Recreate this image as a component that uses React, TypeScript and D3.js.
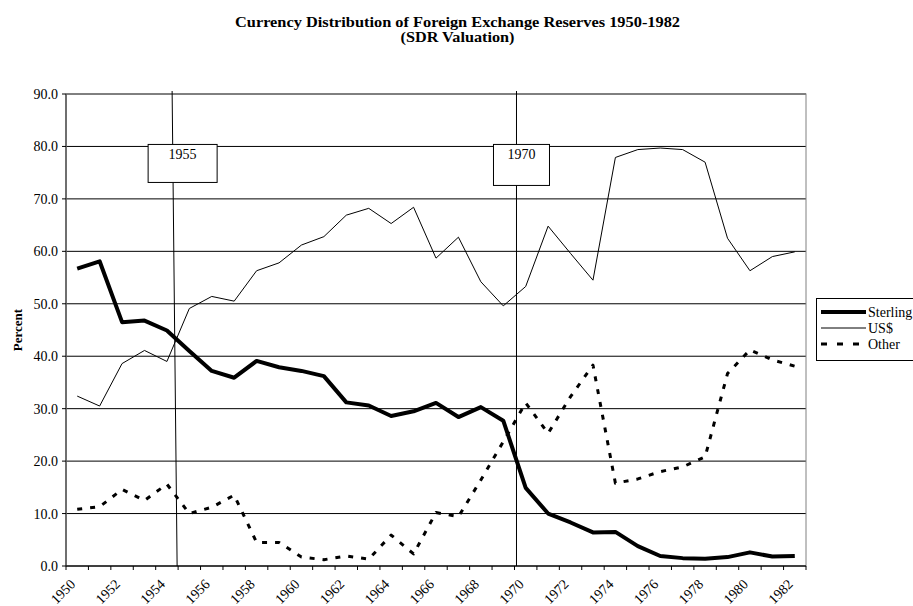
import * as d3 from "d3";

const years = d3.range(1950, 1983);

const sterling = [
  56.7, 58.1, 46.5, 46.8, 44.9, 41.0, 37.2, 35.9, 39.1, 37.9, 37.2, 36.2, 31.2, 30.6, 28.6, 29.5, 31.1,
  28.4, 30.3, 27.7, 14.9, 10.0, 8.3, 6.4, 6.5, 3.8, 1.9, 1.5, 1.4, 1.7, 2.6, 1.8, 1.9,
];

const usd = [
  32.4, 30.5, 38.6, 41.1, 39.0, 49.1, 51.4, 50.5, 56.3, 57.8, 61.2, 62.8, 66.9, 68.2, 65.3, 68.4, 58.7,
  62.7, 54.2, 49.6, 53.3, 64.8, 59.6, 54.5, 77.9, 79.4, 79.7, 79.4, 77.0, 62.5, 56.3, 59.0, 59.9,
];

const other = [
  10.8, 11.3, 14.6, 12.5, 15.6, 10.0, 11.2, 13.5, 4.5, 4.5, 1.7, 1.2, 1.9, 1.3, 5.9, 2.3, 10.2, 9.4,
  16.4, 23.7, 31.1, 25.3, 32.3, 38.3, 15.8, 16.6, 18.0, 18.9, 20.8, 36.7, 41.2, 39.3, 38.1,
];

const yTicks = d3.range(0, 91, 10);
const markers = [1955, 1970];

const series = [
  { name: "Sterling", values: sterling, width: 4, dash: "none" },
  { name: "US$", values: usd, width: 1, dash: "none" },
  { name: "Other", values: other, width: 3, dash: "5,8" },
];

const W = 913;
const H = 606;
const m = { left: 66, right: 107, top: 94, bottom: 40 };
const font = "'Liberation Serif', 'Times New Roman', serif";

export default function App() {
  const x = d3
    .scaleBand<number>()
    .domain(years)
    .range([m.left, W - m.right]);
  const y = d3
    .scaleLinear()
    .domain([0, 90])
    .range([H - m.bottom, m.top]);

  const cx = (yr: number) => (x(yr) as number) + x.bandwidth() / 2;
  const line = d3
    .line<number>()
    .x((_, i) => cx(years[i]))
    .y((v) => y(v));

  const bottom = y(0);

  return (
    <svg width={W} height={H} style={{ position: "absolute", left: 0, top: 0, fontFamily: font }}>
      <rect width={W} height={H} fill="white" />
      <text x={457.5} y={27} textAnchor="middle" fontWeight="bold" fontSize={14} textLength={445} lengthAdjust="spacingAndGlyphs">
        Currency Distribution of Foreign Exchange Reserves 1950-1982
      </text>
      <text x={457.5} y={42} textAnchor="middle" fontWeight="bold" fontSize={14} textLength={114} lengthAdjust="spacingAndGlyphs">
        (SDR Valuation)
      </text>

      {/* gridlines */}
      {yTicks.map((t) => (
        <line key={t} x1={m.left} x2={W - m.right} y1={y(t)} y2={y(t)} stroke="#000" strokeWidth={1} />
      ))}
      <rect
        x={m.left}
        y={m.top}
        width={W - m.right - m.left}
        height={bottom - m.top}
        fill="none"
        stroke="#808080"
        strokeWidth={1}
      />

      {/* y axis */}
      <line x1={m.left} x2={m.left} y1={m.top} y2={bottom} stroke="#555" strokeWidth={1.5} />
      {yTicks.map((t) => (
        <g key={t}>
          <line x1={m.left - 4} x2={m.left} y1={y(t)} y2={y(t)} stroke="#000" />
          <text x={m.left - 8} y={y(t) + 5} textAnchor="end" fontSize={14}>
            {t.toFixed(1)}
          </text>
        </g>
      ))}
      <text
        transform={`translate(22,${(m.top + bottom) / 2}) rotate(-90)`}
        textAnchor="middle"
        fontWeight="bold"
        fontSize={13}
      >
        Percent
      </text>

      {/* x axis */}
      <line x1={m.left} x2={W - m.right} y1={bottom} y2={bottom} stroke="#000" strokeWidth={1} />
      {years.concat([years[years.length - 1] + 1]).map((yr, i) => {
        const px = i < years.length ? (x(yr) as number) : W - m.right;
        return <line key={yr} x1={px} x2={px} y1={bottom} y2={bottom + 4} stroke="#000" />;
      })}
      {years
        .filter((yr) => yr % 2 === 0)
        .map((yr) => (
          <text
            key={yr}
            transform={`translate(${cx(yr) - 1},${bottom + 19}) rotate(-45)`}
            textAnchor="end"
            fontSize={14}
          >
            {yr}
          </text>
        ))}

      {/* marker lines and boxes */}
      {markers.map((yr, i) => {
        const px = x(yr) as number;
        const top = i === 0 ? px - 6 : px + 2;
        const foot = i === 0 ? px - 1 : px + 2;
        const bx = i === 0 ? px - 30 : px - 21;
        const bw = i === 0 ? 69 : 56;
        const bh = i === 0 ? 38 : 41;
        return (
          <g key={yr}>
            <line x1={top} x2={foot} y1={m.top - 3} y2={bottom} stroke="#000" strokeWidth={1} />
            <rect x={bx} y={y(80) - 2} width={bw} height={bh} fill="white" stroke="#000" strokeWidth={1} />
            <text x={bx + bw / 2} y={y(80) + 13} textAnchor="middle" fontSize={14}>
              {yr}
            </text>
          </g>
        );
      })}

      {/* series */}
      {series.map((s) => (
        <path
          key={s.name}
          d={line(s.values) as string}
          fill="none"
          stroke="#000"
          strokeWidth={s.width}
          strokeDasharray={s.dash}
          strokeLinejoin="round"
        />
      ))}

      {/* legend */}
      <g>
        <rect x={816.5} y={298.5} width={100} height={62} fill="white" stroke="#000" strokeWidth={1} />
        {series.map((s, i) => (
          <g key={s.name} transform={`translate(0,${312 + i * 16})`}>
            <line
              x1={821}
              x2={866}
              y1={0}
              y2={0}
              stroke="#000"
              strokeWidth={s.width}
              strokeDasharray={s.dash === "none" ? "none" : "6,10"}
            />
            <text x={868} y={5} fontSize={14}>
              {s.name}
            </text>
          </g>
        ))}
      </g>
    </svg>
  );
}
